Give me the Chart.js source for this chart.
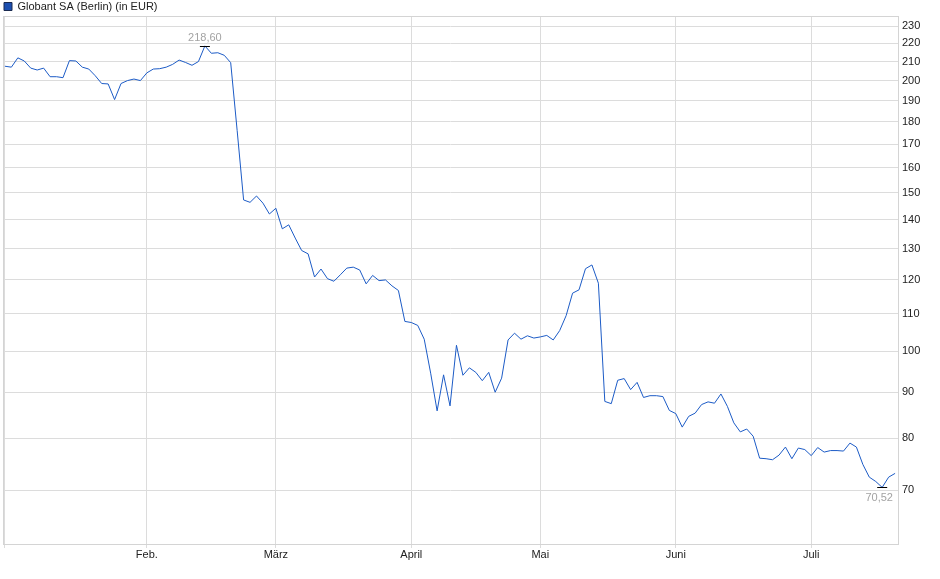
<!DOCTYPE html>
<html>
<head>
<meta charset="utf-8">
<script src="https://cdn.jsdelivr.net/npm/chart.js@4/dist/chart.umd.min.js"></script>
<style>
  html, body { margin: 0; padding: 0; background: #fff; }
  #wrap { position: relative; width: 940px; height: 579px; }
</style>
</head>
<body>
<div id="wrap"><canvas id="chart"></canvas></div>
<script>
const seriesName = "Globant SA (Berlin) (in EUR)";

// closing prices, one per trading day (Jan - Jul)
const prices = [
  207.5, 207, 212, 210.3, 206.5, 205.5, 206.5, 202, 202, 201.5,
  210.5, 210.3, 207, 206, 202.5, 198.5, 198.3, 190.5, 198.5, 200,
  200.8, 200, 204, 206, 206.2, 207, 208.5, 210.8, 209.5, 208,
  210, 218.6, 214.5, 214.8, 213.4, 209.4, 176, 147.3, 146.4, 148.8,
  146.1, 142.1, 144.2, 136.8, 138.2, 133.6, 129.4, 128.3, 120.9, 123.4,
  120.4, 119.6, 121.6, 123.7, 124.0, 123.1, 118.8, 121.4, 119.8, 120.0,
  118.2, 116.8, 107.9, 107.6, 106.8, 103.1, 94.5, 85.8, 94.1, 86.9,
  101.5, 94.0, 95.8, 94.7, 92.7, 94.7, 90.0, 93.3, 102.9, 104.7,
  103.1, 104.0, 103.4, 103.7, 104.1, 102.9, 105.4, 109.5, 116.0, 117.0,
  123.5, 124.7, 119.0, 87.9, 87.4, 92.8, 93.2, 90.6, 92.3, 88.8,
  89.2, 89.2, 89.0, 85.9, 85.2, 82.3, 84.6, 85.3, 87.2, 87.8,
  87.5, 89.6, 86.8, 83.2, 81.3, 81.9, 80.4, 76.0, 75.9, 75.7,
  76.6, 78.2, 75.9, 78.0, 77.7, 76.5, 78.1, 77.2, 77.5, 77.5,
  77.4, 79.0, 78.2, 74.8, 72.4, 71.6, 70.52, 72.4, 73.1
];

// month gridlines sit on these trading-day indices
const monthStarts = [0, 22, 42, 63, 83, 104, 125];
const monthLabels = ["", "Feb.", "März", "April", "Mai", "Juni", "Juli"];

const yTicks = [70, 80, 90, 100, 110, 120, 130, 140, 150, 160, 170, 180, 190, 200, 210, 220, 230];

Chart.defaults.font.family = '"Liberation Sans", Arial, sans-serif';
Chart.defaults.font.size = 11;
Chart.defaults.color = "#222";

const frame = {
  id: "frame",
  beforeDatasetsDraw(chart) {
    const { ctx, chartArea: a } = chart;
    ctx.save();
    ctx.strokeStyle = "#d4d4d4";
    ctx.lineWidth = 1;
    ctx.strokeRect(Math.round(a.left) + 0.5, Math.round(a.top) + 0.5,
      Math.round(a.right - a.left), Math.round(a.bottom - a.top));
    ctx.restore();
  },
};

const extremes = {
  id: "extremes",
  afterDatasetsDraw(chart) {
    const { ctx, scales: { x, y } } = chart;
    const hi = prices.indexOf(Math.max(...prices));
    const lo = prices.indexOf(Math.min(...prices));
    ctx.save();
    ctx.font = '11px "Liberation Sans", Arial, sans-serif';
    ctx.textAlign = "center";
    [[hi, -1], [lo, 1]].forEach(([i, dir]) => {
      const px = x.getPixelForValue(i);
      const py = Math.round(y.getPixelForValue(prices[i])) + 0.5;
      ctx.strokeStyle = "#000";
      ctx.lineWidth = 1;
      ctx.beginPath();
      ctx.moveTo(px - 5, py);
      ctx.lineTo(px + 5, py);
      ctx.stroke();
      ctx.fillStyle = "#a3a3a3";
      ctx.textBaseline = dir < 0 ? "bottom" : "top";
      const tx = dir < 0 ? px : px - 3;
      ctx.fillText(prices[i].toFixed(2).replace(".", ","), tx, py + (dir < 0 ? -3 : 5));
    });
    ctx.restore();
  },
};

const chart = new Chart("chart", {
  type: "line",
  data: {
    datasets: [
      {
        label: seriesName,
        data: prices.map((v, i) => ({ x: i, y: v })),
        borderColor: "#1c5bc6",
        backgroundColor: "#1c4fb0",
        borderWidth: 1,
        pointRadius: 0,
        tension: 0,
      },
    ],
  },
  options: {
    responsive: true,
    maintainAspectRatio: false,
    animation: false,
    layout: { padding: { left: 3, right: 0, top: 0, bottom: 0 } },
    plugins: {
      tooltip: { enabled: false },
      legend: {
        position: "top",
        align: "start",
        maxHeight: 16,
        labels: {
          boxWidth: 8,
          boxHeight: 8,
          padding: 1,
          font: { size: 11 },
          generateLabels: (c) =>
            Chart.defaults.plugins.legend.labels.generateLabels(c).map((l) => ({
              ...l,
              strokeStyle: "#1a2a50",
              lineWidth: 1,
            })),
        },
      },
    },
    scales: {
      x: {
        type: "linear",
        min: -0.3,
        max: 138.45,
        afterBuildTicks: (s) => {
          s.ticks = monthStarts.map((v) => ({ value: v }));
        },
        afterFit: (s) => {
          s.height = 35;
        },
        grid: { color: "#dcdcdc", tickLength: 4 },
        border: { color: "#d4d4d4" },
        ticks: {
          autoSkip: false,
          maxRotation: 0,
          padding: 0,
          callback: (v) => monthLabels[monthStarts.indexOf(v)] || "",
        },
      },
      y: {
        type: "logarithmic",
        position: "right",
        min: 61,
        max: 236,
        afterBuildTicks: (s) => {
          s.ticks = yTicks.map((v) => ({ value: v }));
        },
        afterFit: (s) => {
          s.width = 42;
        },
        grid: { color: "#dcdcdc", drawTicks: false },
        border: { color: "#cfcfcf" },
        ticks: {
          padding: 4,
          callback: (v) => String(v),
        },
      },
    },
  },
  plugins: [frame, extremes],
});
</script>
</body>
</html>
